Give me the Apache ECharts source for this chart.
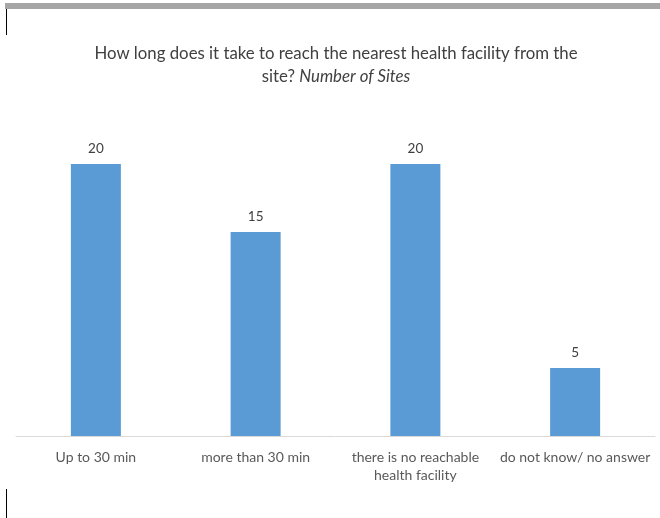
<!DOCTYPE html>
<html>
<head>
<meta charset="utf-8">
<script src="https://cdn.jsdelivr.net/npm/echarts@6/dist/echarts.min.js"></script>
<style>
  html, body { margin: 0; padding: 0; background: #fff; }
  #chart { width: 660px; height: 518px; }
</style>
</head>
<body>
<div id="chart"></div>
<script>
// categories and values
var categories = [
  "Up to 30 min",
  "more than 30 min",
  "there is no reachable\nhealth facility",
  "do not know/ no answer"
];
var sites = [20, 15, 20, 5];

var chart = echarts.init(document.getElementById("chart"));

var option = {
  animation: false,
  textStyle: { fontFamily: "Lato" },
  title: {
    text: "How long does it take to reach the nearest health facility from the\n{n|site? }{i|Number of Sites}",
    left: 331,
    top: 37,
    textAlign: "center",
    textStyle: {
      color: "#404040",
      fontSize: 16.8,
      fontWeight: "normal",
      lineHeight: 23,
      rich: {
        n: { color: "#404040", fontSize: 16.8, lineHeight: 23 },
        i: { color: "#404040", fontSize: 16.8, fontStyle: "italic", lineHeight: 23 }
      }
    }
  },
  grid: {
    left: 16,
    right: 5,
    top: 164,
    bottom: 82
  },
  xAxis: {
    type: "category",
    data: categories,
    axisLine: { lineStyle: { color: "#d9d9d9", width: 1 } },
    axisTick: { show: false },
    axisLabel: {
      color: "#595959",
      fontSize: 14,
      margin: 12,
      lineHeight: 18,
      interval: 0
    }
  },
  yAxis: {
    type: "value",
    min: 0,
    max: 20,
    show: false
  },
  series: [
    {
      type: "bar",
      data: sites,
      barWidth: 50,
      itemStyle: { color: "#5b9bd5" },
      label: {
        show: true,
        position: "top",
        distance: 8,
        color: "#404040",
        fontSize: 13.5
      }
    }
  ],
  graphic: [
    { type: "rect", shape: { x: 5, y: 3, width: 655, height: 6 }, style: { fill: "#a6a6a6" } },
    { type: "rect", shape: { x: 6, y: 9, width: 1, height: 26 }, style: { fill: "#000" } },
    { type: "rect", shape: { x: 6, y: 489, width: 1, height: 29 }, style: { fill: "#000" } }
  ]
};

chart.setOption(option);
</script>
</body>
</html>
